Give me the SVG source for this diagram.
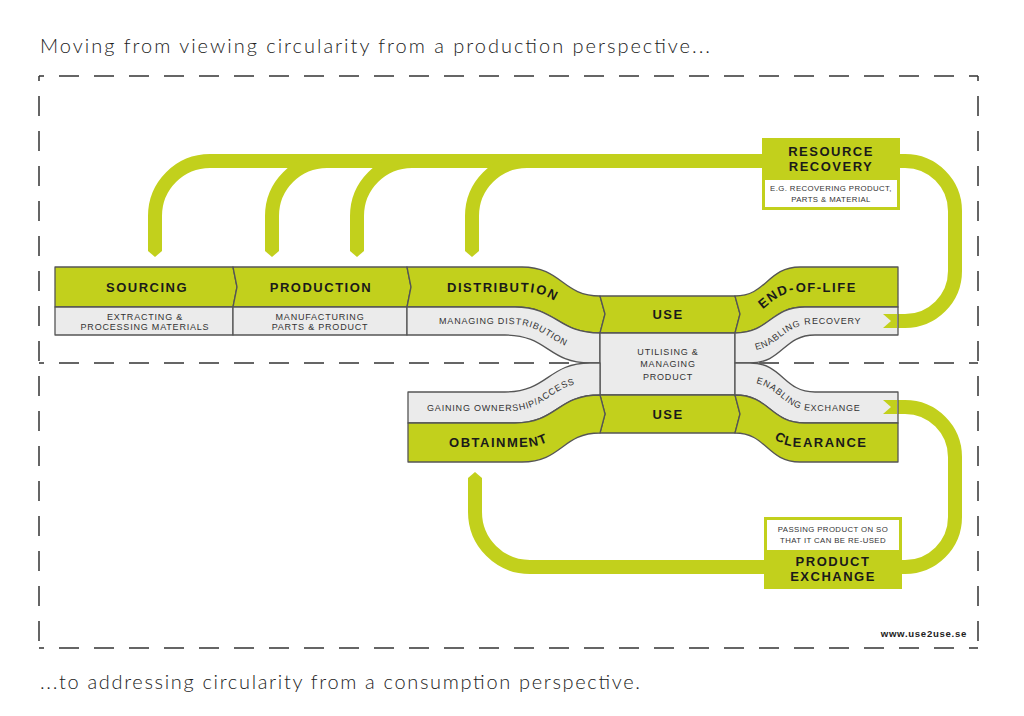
<svg xmlns="http://www.w3.org/2000/svg" width="1024" height="716" viewBox="0 0 1024 716">
<style>
.g{fill:#c2d01c;stroke:#555;stroke-width:1.3;stroke-linejoin:round}
.l{fill:#ebebeb;stroke:#555;stroke-width:1.3;stroke-linejoin:round}
.h{font-family:"Liberation Sans",Arial,sans-serif;font-weight:bold;font-size:13px;letter-spacing:1.5px;fill:#1a1a1a}
.s{font-family:"Liberation Sans",Arial,sans-serif;font-size:9px;letter-spacing:0.8px;fill:#333}
.xs{font-family:"Liberation Sans",Arial,sans-serif;font-size:7.8px;letter-spacing:0.4px;fill:#333}
.c{text-anchor:middle}
.conn{fill:none;stroke:#c2d01c;stroke-width:14}
.tip{fill:#c2d01c}
.dash{fill:none;stroke:#333;stroke-width:1.5;stroke-dasharray:20 15}
.title{font-family:Lato,"Open Sans",sans-serif;font-weight:300;font-size:20px;fill:#222}
</style>
<defs>
<path id="pDist" d="M 440,292 L 522,292 C 562,292 562,319 602,319"/>
<path id="pDistS" d="M 430,324 L 508,324 C 550,324 550,351 593,351"/>
<path id="pObtS" d="M 420,411 L 508,411 C 550,411 550,382 593,382"/>
<path id="pObt" d="M 440,447 L 522,447 C 562,447 562,419 602,419"/>
<path id="pEol" d="M 735,319 C 767,319 767,292 800,292 L 898,292"/>
<path id="pEolS" d="M 745,351 C 780,351 780,324 815,324 L 898,324"/>
<path id="pClrS" d="M 745,382 C 780,382 780,411 815,411 L 898,411"/>
<path id="pClr" d="M 735,419 C 767,419 767,447 800,447 L 898,447"/>
</defs>
<rect width="1024" height="716" fill="#fff"/>

<text class="title" x="40" y="53" textLength="670" lengthAdjust="spacing">Moving from viewing circularity from a production perspective...</text>
<text class="title" x="40" y="689" textLength="600" lengthAdjust="spacing">...to addressing circularity from a consumption perspective.</text>

<g id="frame">
<line class="dash" x1="39" y1="76" x2="978" y2="76" stroke-dashoffset="15"/>
<line class="dash" x1="39" y1="648" x2="978" y2="648" stroke-dashoffset="15"/>
<line class="dash" x1="39" y1="76" x2="39" y2="648" stroke-dashoffset="15"/>
<line class="dash" x1="978" y1="76" x2="978" y2="648" stroke-dashoffset="15"/>
<line class="dash" x1="39" y1="363" x2="978" y2="363" stroke-dashoffset="15"/>
</g>

<g id="connectors">
<path class="conn" d="M 155,249 L 155,216 A 55 55 0 0 1 210,161 L 765,161"/>
<path class="conn" d="M 272,249 L 272,216 A 55 55 0 0 1 327,161"/>
<path class="conn" d="M 357,249 L 357,216 A 55 55 0 0 1 412,161"/>
<path class="conn" d="M 472,249 L 472,216 A 55 55 0 0 1 527,161"/>
<polygon class="tip" points="148,248 162,248 162,251 155,257 148,251"/>
<polygon class="tip" points="265,248 279,248 279,251 272,257 265,251"/>
<polygon class="tip" points="350,248 364,248 364,251 357,257 350,251"/>
<polygon class="tip" points="465,248 479,248 479,251 472,257 465,251"/>
<path class="conn" d="M 899,161 L 905,161 A 50 50 0 0 1 955,211 L 955,271 A 50 50 0 0 1 905,321 L 894,321"/>
<path class="conn" d="M 894,407 L 905,407 A 50 50 0 0 1 955,457 L 955,517 A 50 50 0 0 1 905,567 L 901,567"/>
<path class="conn" d="M 765,567 L 530,567 A 55 55 0 0 1 475,512 L 475,480"/>
<polygon class="tip" points="468,481 482,481 482,478 475,472 468,478"/>
</g>

<g id="sourcing">
<polygon class="g" points="55,267 233,267 237,287 233,307 55,307"/>
<rect class="l" x="55" y="307" width="178" height="28"/>
<text class="h c" x="147" y="292">SOURCING</text>
<text class="s c" x="145" y="320">EXTRACTING &amp;</text>
<text class="s c" x="145" y="330">PROCESSING MATERIALS</text>
</g>

<g id="production">
<polygon class="g" points="233,267 407,267 411,287 407,307 233,307 237,287"/>
<rect class="l" x="233" y="307" width="174" height="28"/>
<text class="h c" x="321" y="292">PRODUCTION</text>
<text class="s c" x="320" y="320">MANUFACTURING</text>
<text class="s c" x="320" y="330">PARTS &amp; PRODUCT</text>
</g>

<g id="distribution">
<path class="g" d="M 407,267 L 522,267 C 562,267 562,296 600,296 L 605,314 L 600,333 C 557,333 557,307 515,307 L 407,307 L 411,287 Z"/>
<path class="l" d="M 407,307 L 515,307 C 557,307 557,333 600,333 L 600,363 L 590,363 C 548,363 548,335 505,335 L 407,335 Z"/>
<text class="h"><textPath href="#pDist" startOffset="7">DISTRIBUTION</textPath></text>
<text class="s"><textPath href="#pDistS" startOffset="9">MANAGING DISTRIBUTION</textPath></text>
</g>

<g id="use">
<polygon class="g" points="600,296 735,296 740,314 735,333 600,333 605,314"/>
<rect class="l" x="600" y="333" width="135" height="62"/>
<polygon class="g" points="600,395 735,395 740,414 735,433 600,433 605,414"/>
<text class="h c" x="668" y="319">USE</text>
<text class="s c" x="668" y="355">UTILISING &amp;</text>
<text class="s c" x="668" y="367">MANAGING</text>
<text class="s c" x="668" y="380">PRODUCT</text>
<text class="h c" x="668" y="419">USE</text>
</g>

<g id="end-of-life">
<path class="g" d="M 735,296 C 767,296 767,267 800,267 L 898,267 L 898,307 L 805,307 C 770,307 770,333 735,333 L 740,314 Z"/>
<path class="l" d="M 735,333 C 770,333 770,307 805,307 L 898,307 L 898,335 L 815,335 C 783,335 783,363 750,363 L 735,363 Z"/>
<text class="h"><textPath href="#pEol" startOffset="30">END-OF-LIFE</textPath></text>
<text class="s"><textPath href="#pEolS" startOffset="11">ENABLING RECOVERY</textPath></text>
</g>

<g id="obtainment">
<path class="l" d="M 408,392 L 505,392 C 548,392 548,363 590,363 L 600,363 L 600,395 C 557,395 557,423 515,423 L 408,423 Z"/>
<path class="g" d="M 408,423 L 515,423 C 557,423 557,395 600,395 L 605,414 L 600,433 C 562,433 562,462 522,462 L 408,462 Z"/>
<text class="s"><textPath href="#pObtS" startOffset="7">GAINING OWNERSHIP/ACCESS</textPath></text>
<text class="h"><textPath href="#pObt" startOffset="9">OBTAINMENT</textPath></text>
</g>

<g id="clearance">
<path class="l" d="M 735,363 L 750,363 C 783,363 783,392 815,392 L 898,392 L 898,423 L 805,423 C 770,423 770,395 735,395 Z"/>
<path class="g" d="M 735,395 C 770,395 770,423 805,423 L 898,423 L 898,462 L 800,462 C 767,462 767,433 735,433 L 740,414 Z"/>
<text class="s"><textPath href="#pClrS" startOffset="11">ENABLING EXCHANGE</textPath></text>
<text class="h"><textPath href="#pClr" startOffset="45">CLEARANCE</textPath></text>
</g>

<g id="tails">
<polygon class="tip" points="883,314 897,314 897,328 883,328 891,321"/>
<polygon class="tip" points="883,400 897,400 897,414 883,414 891,407"/>
</g>

<g id="resource-recovery">
<rect x="762" y="138" width="138" height="72" fill="#c2d01c"/>
<rect x="765" y="180" width="132" height="27" fill="#fff"/>
<text class="h c" x="831" y="156">RESOURCE</text>
<text class="h c" x="831" y="171">RECOVERY</text>
<text class="xs c" x="831" y="191">E.G. RECOVERING PRODUCT,</text>
<text class="xs c" x="831" y="202">PARTS &amp; MATERIAL</text>
</g>

<g id="product-exchange">
<rect x="764" y="517" width="138" height="72" fill="#c2d01c"/>
<rect x="767" y="520" width="132" height="30" fill="#fff"/>
<text class="xs c" x="833" y="532">PASSING PRODUCT ON SO</text>
<text class="xs c" x="833" y="543">THAT IT CAN BE RE-USED</text>
<text class="h c" x="833" y="566">PRODUCT</text>
<text class="h c" x="833" y="581">EXCHANGE</text>
</g>

<text x="967" y="637" text-anchor="end" font-family="Liberation Sans, Arial, sans-serif" font-weight="bold" font-size="9.6" letter-spacing="0.7" fill="#222">www.use2use.se</text>
</svg>
